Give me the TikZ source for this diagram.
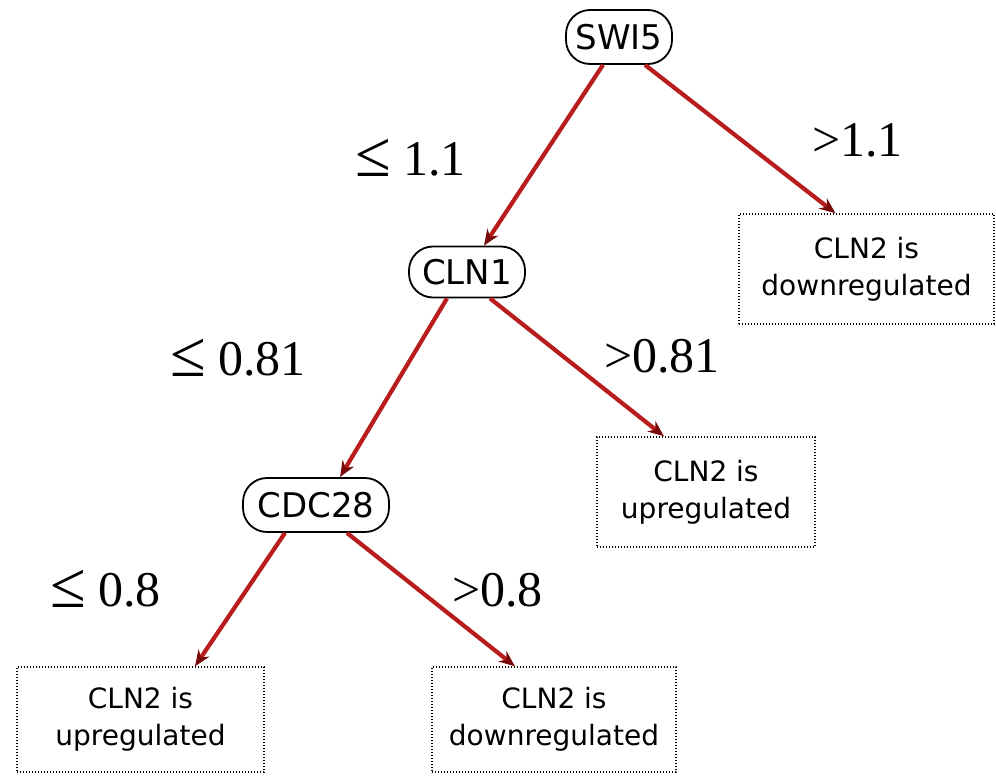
\documentclass[tikz,border=0pt]{standalone}
\usepackage{fontspec}
\setmainfont{Liberation Serif}
\newfontfamily\nodefont{DejaVu Sans}
\usetikzlibrary{arrows.meta}
\definecolor{edgered}{RGB}{185,28,28}
\definecolor{tipred}{RGB}{120,10,10}
\newcommand{\myleq}{\raisebox{-1pt}{\scalebox{1.3}{≤}}}
\tikzset{
  test/.style={draw=black, line width=1.8pt, rounded corners=24pt, inner sep=0pt,
    font=\nodefont\fontsize{34}{36}\selectfont},
  leaf/.style={draw=black, line width=1.4pt, dash pattern=on 1.4pt off 1.6pt, inner sep=0pt,
    align=center, font=\nodefont\fontsize{28}{37}\selectfont},
  edge/.style={draw=edgered, line width=4.2pt, -{Stealth[length=16pt,width=13pt,color=tipred]}},
  cond/.style={anchor=base west, inner sep=0pt, font=\fontsize{50}{50}\selectfont}
}
\begin{document}
\begin{tikzpicture}[x=1pt,y=-1pt]
\useasboundingbox (0,0) rectangle (996,776);
\node[test, minimum width=106pt, minimum height=54pt] (swi) at (619,37) {SWI5};
\node[test, minimum width=116pt, minimum height=51pt] (cln) at (467,272) {CLN1};
\node[test, minimum width=146pt, minimum height=54pt] (cdc) at (316,505) {CDC28};
\node[leaf, minimum width=255pt, minimum height=110pt] (tr) at (866.5,269) {CLN2 is\\downregulated};
\node[leaf, minimum width=218pt, minimum height=110pt] (mid) at (706,492) {CLN2 is\\upregulated};
\node[leaf, minimum width=247pt, minimum height=105pt] (bl) at (140.5,719.5) {CLN2 is\\upregulated};
\node[leaf, minimum width=244pt, minimum height=105pt] (bm) at (554,719.5) {CLN2 is\\downregulated};
\draw[edge] ([xshift=-16pt]swi.south) -- ([xshift=17pt]cln.north);
\draw[edge] ([xshift=26pt]swi.south) -- ([xshift=-31pt]tr.north);
\draw[edge] ([xshift=-20pt]cln.south) -- ([xshift=24pt]cdc.north);
\draw[edge] ([xshift=23pt]cln.south) -- ([xshift=-42pt]mid.north);
\draw[edge] ([xshift=-31pt]cdc.south) -- ([xshift=54.5pt]bl.north);
\draw[edge] ([xshift=31pt]cdc.south) -- ([xshift=-39pt]bm.north);
\node[cond] (c1) at (355,175) {\myleq\ 1.1};
\node[cond] (c2) at (812,156) {>1.1};
\node[cond] (c3) at (170,375) {\myleq\ 0.81};
\node[cond] (c4) at (604,372) {>0.81};
\node[cond] (c5) at (50,606) {\myleq\ 0.8};
\node[cond] (c6) at (452,606) {>0.8};
\end{tikzpicture}
\end{document}
